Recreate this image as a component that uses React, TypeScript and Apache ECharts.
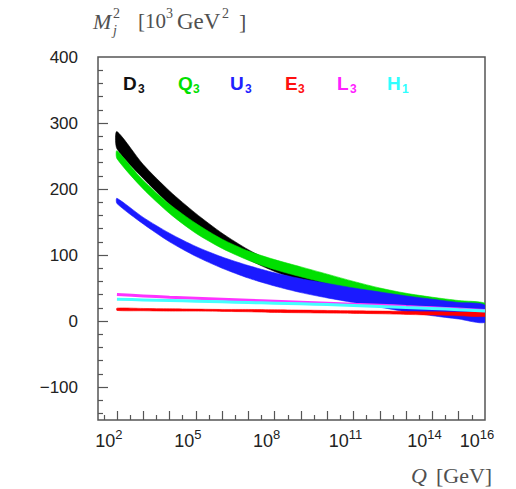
import React, { useEffect, useRef } from "react";
import * as echarts from "echarts";

// log10(Q / GeV)
const logQ = [2, 3, 4, 5, 6, 7, 8, 9, 10, 11, 12, 13, 14, 15, 16];

const d3Upper = [287, 237, 197, 163, 133, 108, 88, 72, 60, 49, 40, 32, 26, 20, 15];
const d3Lower = [261, 216, 177, 143, 115, 93, 75, 61, 50, 40, 32, 25, 19, 14, 9];

const q3Upper = [258, 213, 177, 148, 124, 106, 93, 82, 71, 60, 50, 42, 36, 31, 27];
const q3Lower = [246, 200, 163, 133, 110, 92, 78, 67, 57, 48, 40, 33, 27, 21, 15];

const u3Upper = [186, 157, 133, 113, 97, 84, 73, 64, 57, 50, 44, 38, 33, 28, 24];
const u3Lower = [178, 147, 120, 98, 80, 65, 53, 43, 35, 28, 21, 14, 8, 3, -2];

const e3Upper = [19.5, 19, 18.5, 18, 17.5, 17.5, 17, 16.5, 16, 15.5, 15, 14.5, 14, 13.5, 13];
const e3Lower = [16, 15.5, 15, 15, 14.5, 14, 13, 12.5, 12, 11.5, 11, 10, 9, 8, 7];

const l3Values = [40, 38, 36, 34.5, 33, 31.5, 30, 28.5, 27, 25.5, 24, 22, 20, 18, 16];
const h1Values = [33, 32, 31, 30, 29, 28, 27, 26, 25, 23.5, 22, 20.5, 19, 17, 15];

const xLabelExponents = [2, 5, 8, 11, 14, 16];
const xMajorTicks = [2, 3, 4, 5, 6, 7, 8, 9, 10, 11, 12, 13, 14, 15];
const xMinorTicks = [1.5, 2.5, 3.5, 4.5, 5.5, 6.5, 7.5, 8.5, 9.5, 10.5, 11.5, 12.5, 13.5, 14.5, 15.5];
const yLabelValues = [-100, 0, 100, 200, 300, 400];
const yMajorTicks = [-100, 0, 100, 200, 300];
const yMinorTicks = [-140, -120, -80, -60, -40, -20, 20, 40, 60, 80, 120, 140, 160, 180, 220, 240, 260, 280, 320, 340, 360, 380];

const legendItems = [
  { name: "D", sub: "3", color: "#111111", x: 123 },
  { name: "Q", sub: "3", color: "#00e000", x: 178 },
  { name: "U", sub: "3", color: "#2020ff", x: 230 },
  { name: "E", sub: "3", color: "#ff1010", x: 285 },
  { name: "L", sub: "3", color: "#ff20ff", x: 337 },
  { name: "H", sub: "1", color: "#30ffff", x: 387 },
];

function band(id: string, upper: number[], lower: number[], color: string) {
  return {
    type: "custom",
    name: id,
    data: logQ.map((e, i) => [e, upper[i], lower[i]]),
    encode: { x: 0, y: [1, 2] },
    clip: true,
    silent: true,
    renderItem: (params: any, api: any) => {
      if (params.dataIndex !== 0) return { type: "group", children: [] };
      const top = logQ.map((e, i) => api.coord([e, upper[i]]));
      const bot = logQ.map((e, i) => api.coord([e, lower[i]])).reverse();
      return {
        type: "polygon",
        shape: { points: top.concat(bot), smooth: 0.25 },
        style: { fill: color, stroke: color, lineWidth: 0.6 },
      };
    },
  };
}

function line(id: string, values: number[], color: string) {
  return {
    type: "line",
    name: id,
    data: logQ.map((e, i) => [e, values[i]]),
    symbol: "none",
    smooth: 0.3,
    lineStyle: { width: 3, color },
    silent: true,
  };
}

const serif = '"Liberation Serif", "DejaVu Serif", serif';
const sans = '"Liberation Sans", Arial, sans-serif';
const gray = "#505050";

function txt(x: number, y: number, text: string, size: number, opts: any = {}) {
  return {
    type: "text",
    x,
    y,
    silent: true,
    style: {
      text,
      fontSize: size,
      fontFamily: opts.family || serif,
      fontStyle: opts.italic ? "italic" : "normal",
      fontWeight: opts.bold ? "bold" : "normal",
      fill: opts.color || gray,
      textAlign: "left",
      textVerticalAlign: "middle",
      align: "left",
      verticalAlign: "middle",
    },
  };
}

const tickStyle = { color: "#555", width: 1.2 };

export default function App() {
  const ref = useRef<HTMLDivElement>(null);
  useEffect(() => {
    if (!ref.current) return;
    const chart = echarts.init(ref.current, null, { renderer: "svg" });

    const graphics: any[] = [
      txt(93, 21, "M", 22, { italic: true }),
      txt(113, 13, "2", 14),
      txt(113, 30, "j", 14, { italic: true }),
      txt(138, 21, "[10", 21),
      txt(166, 13, "3", 14),
      txt(177, 21, "GeV", 23),
      txt(222, 13, "2", 14),
      txt(239, 21, "]", 22),
      txt(411, 475, "Q", 22, { italic: true }),
      txt(436, 475, "[GeV]", 22),
    ];
    legendItems.forEach((it) => {
      graphics.push(txt(it.x, 83, it.name, 19, { family: sans, bold: true, color: it.color }));
      graphics.push(
        txt(it.x + (it.name === "E" || it.name === "L" ? 13 : 15), 89, it.sub, 12, {
          family: sans,
          bold: true,
          color: it.color,
        })
      );
    });

    chart.setOption({
      animation: false,
      grid: {
        left: 98,
        right: 31,
        top: 57,
        bottom: 69,
        show: true,
        borderColor: "#555",
        borderWidth: 1.5,
        backgroundColor: "transparent",
      },
      xAxis: [
        {
          type: "value",
          min: 1.28,
          max: 16,
          axisLine: { show: false, onZero: false },
          splitLine: { show: false },
          axisTick: { show: true, inside: true, length: 9, customValues: xMajorTicks, lineStyle: tickStyle },
          axisLabel: {
            customValues: xLabelExponents,
            margin: 8,
            padding: [0, 16, 0, 0],
            formatter: (v: number) => "{b|10}{s|" + Math.round(v) + "}",
            rich: {
              b: { fontSize: 18, fontFamily: sans, color: "#222", lineHeight: 22, verticalAlign: "bottom" },
              s: { fontSize: 13, fontFamily: sans, color: "#222", lineHeight: 12, verticalAlign: "top" },
            },
          },
        },
        {
          type: "value",
          position: "bottom",
          min: 1.28,
          max: 16,
          axisLine: { show: false, onZero: false },
          splitLine: { show: false },
          axisTick: { show: true, inside: true, length: 5, customValues: xMinorTicks, lineStyle: tickStyle },
          axisLabel: { show: false },
        },
      ],
      yAxis: [
        {
          type: "value",
          min: -150,
          max: 400,
          axisLine: { show: false, onZero: false },
          splitLine: { show: false },
          axisTick: { show: true, inside: true, length: 10, customValues: yMajorTicks, lineStyle: tickStyle },
          axisLabel: {
            customValues: yLabelValues,
            margin: 20,
            fontSize: 17,
            fontFamily: sans,
            color: "#222",
            formatter: (v: number) => (v < 0 ? "\u2212" + Math.abs(v) : String(v)),
          },
        },
        {
          type: "value",
          position: "left",
          min: -150,
          max: 400,
          axisLine: { show: false, onZero: false },
          splitLine: { show: false },
          axisTick: { show: true, inside: true, length: 5, customValues: yMinorTicks, lineStyle: tickStyle },
          axisLabel: { show: false },
        },
      ],
      series: [
        band("D3", d3Upper, d3Lower, "#000000"),
        band("Q3", q3Upper, q3Lower, "#00e000"),
        band("U3", u3Upper, u3Lower, "#1a1aff"),
        band("E3", e3Upper, e3Lower, "#ff0000"),
        line("L3", l3Values, "#ff33ff"),
        line("H1", h1Values, "#44ffff"),
      ],
      graphic: graphics,
    });
    return () => chart.dispose();
  }, []);
  return <div ref={ref} style={{ width: 516, height: 489, position: "absolute", left: 0, top: 0 }} />;
}
